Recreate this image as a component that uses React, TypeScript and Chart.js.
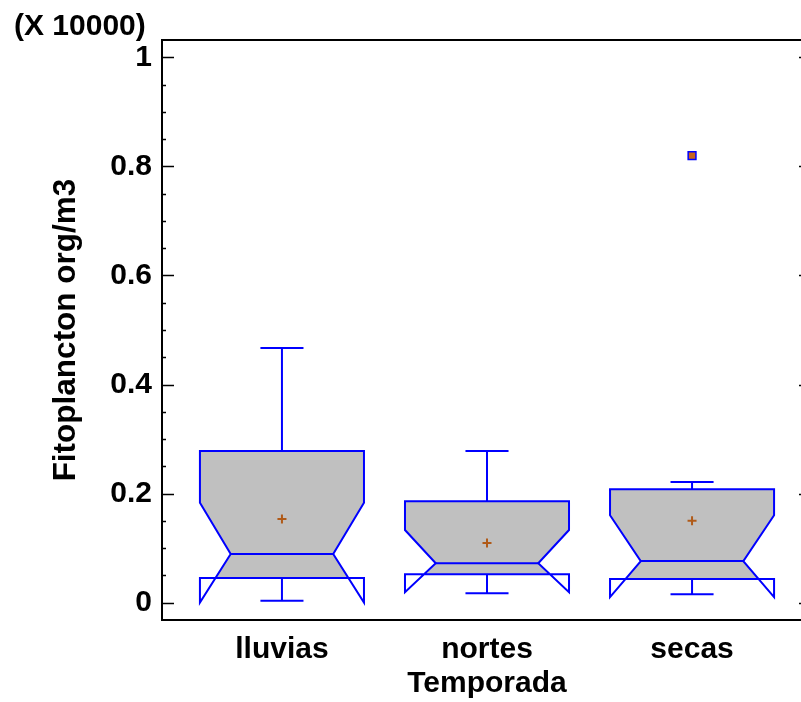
import { useEffect, useRef } from 'react';
import { Chart, registerables } from 'chart.js';

Chart.register(...registerables);

// ---- data ----
const categories = ['lluvias', 'nortes', 'secas'];
const whiskerLow = [0.003, 0.017, 0.015];
const q1 = [0.045, 0.052, 0.043];
const median = [0.089, 0.072, 0.076];
const q3 = [0.278, 0.186, 0.208];
const whiskerHigh = [0.467, 0.278, 0.221];
const notchLow = [0.0, 0.019, 0.01];
const notchHigh = [0.183, 0.133, 0.16];
const means = [0.153, 0.109, 0.15];
const outlierCategory = [2];
const outlierValue = [0.82];
const yTickValues = [0, 0.2, 0.4, 0.6, 0.8, 1];
const yMinorTickValues = [0.05, 0.1, 0.15, 0.25, 0.3, 0.35, 0.45, 0.5, 0.55, 0.65, 0.7, 0.75, 0.85, 0.9, 0.95];
const yTitle = 'Fitoplancton org/m3';
const xTitle = 'Temporada';
const scaleNote = '(X 10000)';

// ---- styling ----
const FONT = 'Liberation Sans';
const BLUE = '#0000ff';
const BOX_FILL = '#c0c0c0';
const BOX_HALF = 0.4;
const NOTCH_HALF = 0.25;
const CAP_HALF = 0.105;

const boxPlugin = {
  id: 'notchedBoxes',
  beforeDatasetsDraw(chart: any) {
    const { ctx, scales } = chart;
    const x = scales.x;
    const y = scales.y;
    const px = (v: number) => x.getPixelForValue(v);
    const py = (v: number) => y.getPixelForValue(v);
    ctx.save();
    categories.forEach((_, i) => {
      const L = px(i - BOX_HALF), R = px(i + BOX_HALF);
      const iL = px(i - NOTCH_HALF), iR = px(i + NOTCH_HALF);
      const C = px(i);
      const yQ1 = py(q1[i]), yQ3 = py(q3[i]), yMed = py(median[i]);
      const yNH = py(notchHigh[i]), yNL = py(notchLow[i]);
      const edge = (yy: number, side: number) => {
        const outer = side < 0 ? L : R;
        const inner = side < 0 ? iL : iR;
        const yEnd = yy < yMed ? yNH : yNL;
        const t = Math.min(1, Math.abs(yy - yMed) / Math.max(1e-6, Math.abs(yEnd - yMed)));
        return inner + (outer - inner) * t;
      };
      // fill
      ctx.beginPath();
      ctx.moveTo(L, yQ3);
      ctx.lineTo(L, yNH);
      ctx.lineTo(iL, yMed);
      if (yNL > yQ1) {
        ctx.lineTo(edge(yQ1, -1), yQ1);
        ctx.lineTo(edge(yQ1, 1), yQ1);
      } else {
        ctx.lineTo(L, yNL);
        ctx.lineTo(L, yQ1);
        ctx.lineTo(R, yQ1);
        ctx.lineTo(R, yNL);
      }
      ctx.lineTo(iR, yMed);
      ctx.lineTo(R, yNH);
      ctx.lineTo(R, yQ3);
      ctx.closePath();
      ctx.fillStyle = BOX_FILL;
      ctx.fill();

      ctx.strokeStyle = BLUE;
      ctx.lineWidth = 2;
      ctx.lineJoin = 'miter';
      ctx.beginPath();
      ctx.moveTo(L, yQ1);
      ctx.lineTo(L, yNL);
      ctx.lineTo(iL, yMed);
      ctx.lineTo(L, yNH);
      ctx.lineTo(L, yQ3);
      ctx.lineTo(R, yQ3);
      ctx.lineTo(R, yNH);
      ctx.lineTo(iR, yMed);
      ctx.lineTo(R, yNL);
      ctx.lineTo(R, yQ1);
      ctx.closePath();
      ctx.stroke();
      ctx.beginPath();
      ctx.moveTo(iL, yMed);
      ctx.lineTo(iR, yMed);
      ctx.stroke();
      const yWH = py(whiskerHigh[i]), yWL = py(whiskerLow[i]);
      const cL = px(i - CAP_HALF), cR = px(i + CAP_HALF);
      ctx.beginPath();
      ctx.moveTo(C, yQ3);
      ctx.lineTo(C, yWH);
      ctx.moveTo(cL, yWH);
      ctx.lineTo(cR, yWH);
      ctx.moveTo(C, yQ1);
      ctx.lineTo(C, yWL);
      ctx.moveTo(cL, yWL);
      ctx.lineTo(cR, yWL);
      ctx.stroke();
    });
    ctx.restore();
  },
  afterDraw(chart: any) {
    const { ctx, chartArea, scales } = chart;
    const y = scales.y;
    const { left, right, top, bottom } = chartArea;
    ctx.save();
    ctx.strokeStyle = '#000';
    ctx.lineWidth = 2;
    ctx.beginPath();
    ctx.rect(left, top, right - left, bottom - top);
    ctx.stroke();
    ctx.beginPath();
    yTickValues.forEach((v) => {
      const yy = Math.round(y.getPixelForValue(v)) + 0.5;
      ctx.moveTo(left, yy);
      ctx.lineTo(left + 12, yy);
      ctx.moveTo(right, yy);
      ctx.lineTo(right - 13, yy);
    });
    yMinorTickValues.forEach((v) => {
      const yy = Math.round(y.getPixelForValue(v)) + 0.5;
      ctx.moveTo(left, yy);
      ctx.lineTo(left + 4, yy);
      ctx.moveTo(right, yy);
      ctx.lineTo(right - 4, yy);
    });
    ctx.lineWidth = 1.5;
    ctx.stroke();
    ctx.fillStyle = '#000';
    ctx.font = `bold 30px "${FONT}"`;
    ctx.textAlign = 'left';
    ctx.textBaseline = 'middle';
    ctx.fillText(scaleNote, 14, 27);
    ctx.restore();
  },
};

export default function App() {
  const ref = useRef<HTMLCanvasElement | null>(null);
  useEffect(() => {
    document.documentElement.style.overflow = 'hidden';
    document.body.style.overflow = 'hidden';
    const canvas = ref.current;
    if (!canvas) return;
    const chart = new Chart(canvas, {
      type: 'scatter',
      data: {
        datasets: [
          {
            label: 'mean',
            data: means.map((m, i) => ({ x: i, y: m })),
            pointStyle: 'cross',
            radius: 4.5,
            borderColor: '#b05a18',
            borderWidth: 2,
          },
          {
            label: 'outlier',
            data: outlierCategory.map((c, k) => ({ x: c, y: outlierValue[k] })),
            pointStyle: 'rect',
            radius: 5.5,
            backgroundColor: '#c8641e',
            borderColor: BLUE,
            borderWidth: 1.5,
          },
        ],
      },
      options: {
        animation: false,
        responsive: false,
        devicePixelRatio: 1,
        layout: { padding: { left: 0, top: 40, right: 8, bottom: 0 } },
        plugins: { legend: { display: false }, tooltip: { enabled: false } },
        scales: {
          x: {
            type: 'linear',
            min: -0.585,
            max: 2.585,
            afterBuildTicks: (s: any) => {
              s.ticks = categories.map((_, i) => ({ value: i }));
            },
            afterFit: (s: any) => {
              s.height = 82;
            },
            ticks: {
              callback: (v: any) => categories[Number(v)] ?? '',
              autoSkip: false,
              maxRotation: 0,
              padding: 12,
              color: '#000',
              font: { family: FONT, weight: 'bold', size: 30 },
            },
            grid: { display: false, drawTicks: false },
            border: { display: false },
            title: {
              display: true,
              text: xTitle,
              color: '#000',
              padding: { top: 0, bottom: 0 },
              font: { family: FONT, weight: 'bold', size: 30 },
            },
          },
          y: {
            type: 'linear',
            min: -0.0321,
            max: 1.0321,
            afterBuildTicks: (s: any) => {
              s.ticks = yTickValues.map((v) => ({ value: v }));
            },
            afterFit: (s: any) => {
              s.width = 162;
            },
            ticks: {
              callback: (v: any) => String(v),
              autoSkip: false,
              padding: 10,
              color: '#000',
              font: { family: FONT, weight: 'bold', size: 30 },
            },
            grid: { display: false, drawTicks: false },
            border: { display: false },
            title: {
              display: true,
              text: yTitle,
              color: '#000',
              padding: { top: 47, bottom: 0 },
              font: { family: FONT, weight: 'bold', size: 31.5 },
            },
          },
        },
      },
      plugins: [boxPlugin],
    } as any);
    return () => chart.destroy();
  }, []);
  return (
    <div style={{ position: 'fixed', left: 0, top: 0, width: 801, height: 702, overflow: 'hidden' }}>
      <canvas ref={ref} width={820} height={702} style={{ width: 820, height: 702, display: 'block' }} />
    </div>
  );
}
